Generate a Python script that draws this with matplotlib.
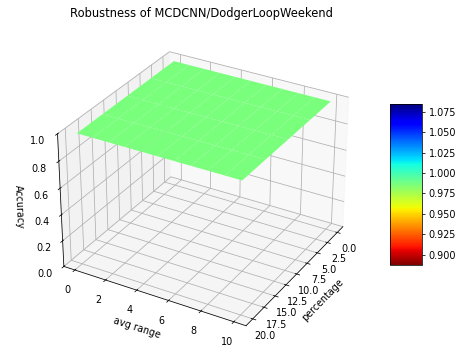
import numpy as np
import matplotlib
matplotlib.use("Agg")
import matplotlib.pyplot as plt

# grid of attack settings
avg_range = [0, 1, 2, 3, 4, 5, 6, 7, 8, 9, 10]
percentage = [0, 5, 10, 15, 20]
# accuracy is unchanged across every setting
accuracy_value = 0.986

percentage_ticks = [0, 2.5, 5, 7.5, 10, 12.5, 15, 17.5, 20]
avg_range_ticks = [0, 2, 4, 6, 8, 10]
accuracy_ticks = [0.0, 0.2, 0.4, 0.6, 0.8, 1.0]
colorbar_ticks = [0.900, 0.925, 0.950, 0.975, 1.000, 1.025, 1.050, 1.075]

P, A = np.meshgrid(percentage, avg_range)
Z = np.full(P.shape, accuracy_value)

DPI = 69
fig = plt.figure(figsize=(466 / DPI, 347 / DPI), dpi=DPI)
ax = fig.add_axes([38 / 466, -3 / 347, 327 / 466, 327 / 347], projection="3d")
surf = ax.plot_surface(P, A, Z, cmap="jet_r", linewidth=0, antialiased=True)
ax.set_zlim(0, 1)
ax.view_init(elev=30, azim=30)
ax.set_box_aspect((4, 4, 2.9), zoom=0.984)
ax.set_xticks(percentage_ticks)
ax.set_yticks(avg_range_ticks)
ax.set_zticks(accuracy_ticks)
ax.set_xlabel("percentage")
ax.set_ylabel("avg range")
ax.set_zlabel("Accuracy")
ax.set_title("Robustness of MCDCNN/DodgerLoopWeekend")

cax = fig.add_axes([389.5 / 466, (347 - 265) / 347, 32.5 / 466, 161 / 347])
cbar = fig.colorbar(surf, cax=cax)
cbar.set_ticks(colorbar_ticks)
cbar.ax.yaxis.set_major_formatter(matplotlib.ticker.FormatStrFormatter("%.3f"))

fig.savefig("out.png", dpi=DPI)
